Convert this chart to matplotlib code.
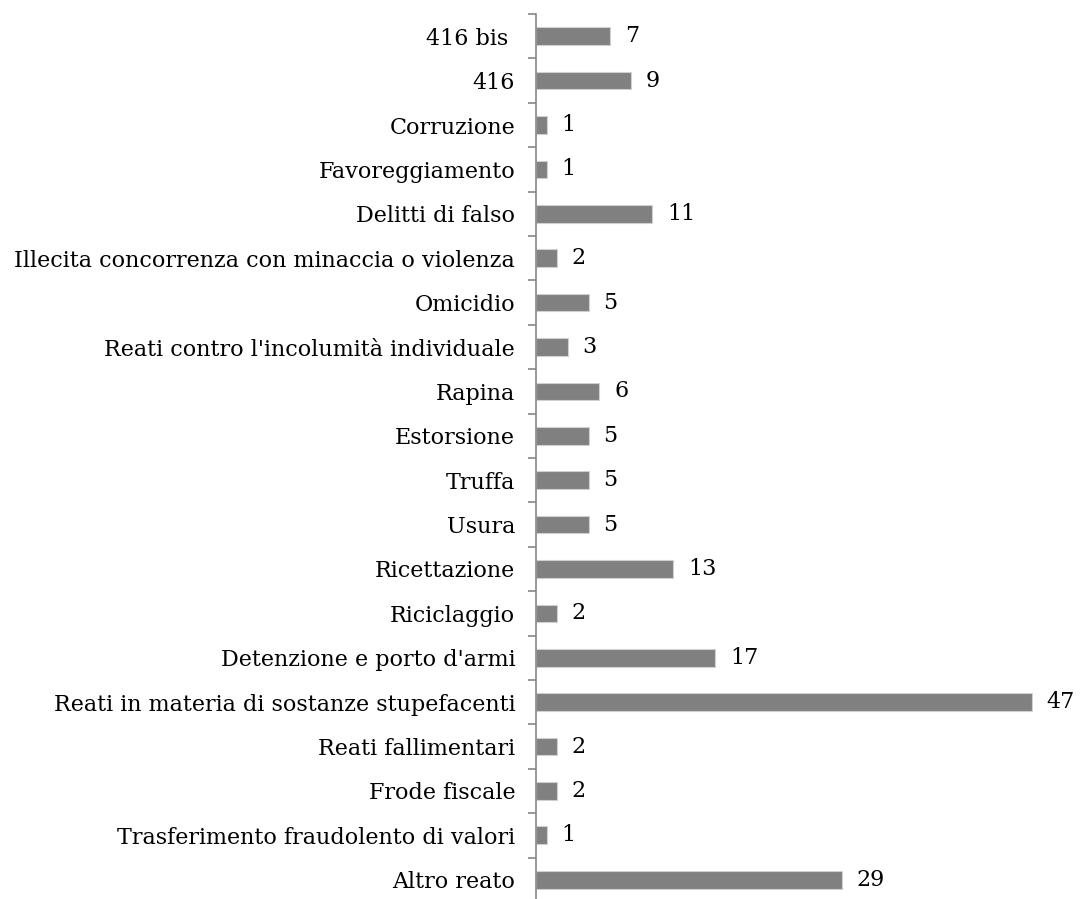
import matplotlib.pyplot as plt

categorie = [
    "Altro reato",
    "Trasferimento fraudolento di valori",
    "Frode fiscale",
    "Reati fallimentari",
    "Reati in materia di sostanze stupefacenti",
    "Detenzione e porto d'armi",
    "Riciclaggio",
    "Ricettazione",
    "Usura",
    "Truffa",
    "Estorsione",
    "Rapina",
    "Reati contro l'incolumità individuale",
    "Omicidio",
    "Illecita concorrenza con minaccia o violenza",
    "Delitti di falso",
    "Favoreggiamento",
    "Corruzione",
    "416",
    "416 bis ",
]
valori = [29, 1, 2, 2, 47, 17, 2, 13, 5, 5, 5, 6, 3, 5, 2, 11, 1, 1, 9, 7]

plt.rcParams['font.family'] = ['DejaVu Serif']

fig = plt.figure(figsize=(10.8, 8.99), dpi=100)
# asse verticale a x=536, dall'alto (y=14) fino oltre il bordo inferiore
ax = fig.add_axes([0.4963, -0.0033, 0.4602, 0.9877])

pos = list(range(len(categorie)))
ax.barh(pos, valori, height=0.4, color='#808080', edgecolor='#d0d0d0', linewidth=0.8)

for y, v in zip(pos, valori):
    ax.text(v + 1.4, y, str(v), va='center', ha='left', fontsize=16, color='black')

ax.set_xlim(0, 47.1)
ax.set_ylim(-0.5, len(categorie) - 0.5)
ax.set_yticks(pos)
ax.set_yticklabels(categorie, fontsize=16)
ax.set_yticks([p - 0.5 for p in pos] + [len(categorie) - 0.5], minor=True)
ax.tick_params(axis='y', which='major', length=0, pad=15)
ax.tick_params(axis='y', which='minor', length=6, width=1.2, color='#868686', direction='out')
ax.set_xticks([])

for s in ['top', 'right', 'bottom']:
    ax.spines[s].set_visible(False)
ax.spines['left'].set_color('#868686')
ax.spines['left'].set_linewidth(1.2)

fig.savefig('out.png', dpi=100)
